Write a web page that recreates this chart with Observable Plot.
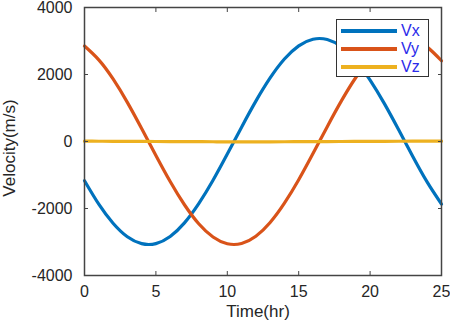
<!DOCTYPE html>
<html>
<head>
<meta charset="utf-8">
<script src="https://cdn.jsdelivr.net/npm/d3@7"></script>
<script src="https://cdn.jsdelivr.net/npm/@observablehq/plot@0.6"></script>
<style>
  html, body { margin: 0; padding: 0; background: #fff; }
  #wrap { position: relative; width: 450px; height: 323px; font-family: "Liberation Sans", Arial, Helvetica, sans-serif; }
  #legend { position: absolute; left: 336px; top: 19px; width: 91px; height: 56px; border: 1.2px solid #333; background: #fff; }
  #legend .row { position: absolute; left: 4px; height: 18px; display: flex; align-items: center; }
  #legend .sw { width: 56px; height: 3.5px; }
  #legend .lab { margin-left: 4px; font-size: 16px; color: #2b2bea; }
</style>
</head>
<body>
<div id="wrap"></div>
<script>
const seriesNames = ["Vx", "Vy", "Vz"];
const seriesColors = ["#0072BD", "#D95319", "#EDB120"];
const time = [0,1,2,3,4,5,6,7,8,9,10,11,12,13,14,15,16,17,18,19,20,21,22,23,24,25];
const vx = [-1170,-1870,-2440,-2844,-3050,-3047,-2835,-2429,-1855,-1157,-376,428,1204,1897,2461,2855,3053,3043,2824,2411,1832,1130,348,-456,-1215,-1870];
const vy = [2850,2436,1867,1168,388,-416,-1194,-1888,-2456,-2850,-3052,-3045,-2829,-2418,-1842,-1142,-360,444,1219,1910,2470,2861,3055,3041,2817,2410];
const vz = [10,8,6,4,2,0,-2,-4,-6,-8,-10,-10,-10,-9,-8,-6,-4,-2,0,2,4,6,8,9,10,10];
const xTicks = [0,5,10,15,20,25];
const yTicks = [-4000,-2000,0,2000,4000];
const xLabel = "Time(hr)";
const yLabel = "Velocity(m/s)";

const values = [vx, vy, vz];
const data = [];
seriesNames.forEach((name, i) => {
  time.forEach((t, j) => data.push({series: name, t, v: values[i][j]}));
});

const textColor = "#262626";
const chart = Plot.plot({
  width: 450,
  height: 323,
  marginLeft: 84,
  marginRight: 9,
  marginTop: 7,
  marginBottom: 48,
  style: {fontFamily: '"Liberation Sans", Arial, Helvetica, sans-serif', fontSize: "16px", color: textColor, background: "#fff"},
  x: {domain: [0, 25]},
  y: {domain: [-4000, 4000]},
  color: {domain: seriesNames, range: seriesColors},
  marks: [
    Plot.lineY(data, {x: "t", y: "v", stroke: "series", strokeWidth: 3.2, curve: "natural"}),
    Plot.axisX({ticks: xTicks, tickSize: -4, tickPadding: 14, stroke: "#444", fontSize: 16, label: null, tickFormat: d => String(d)}),
    Plot.axisX({anchor: "top", ticks: xTicks, tickSize: -4, stroke: "#444", label: null, tickFormat: () => ""}),
    Plot.axisY({ticks: yTicks, tickSize: -4, tickPadding: 16, stroke: "#444", fontSize: 16, label: null, tickFormat: d => String(d)}),
    Plot.axisY({anchor: "right", ticks: yTicks, tickSize: -4, stroke: "#444", label: null, tickFormat: () => ""}),
    Plot.frame({stroke: "#444", strokeWidth: 1.5})
  ]
});

const svg = d3.select(chart);
svg.append("text")
  .attr("x", 258).attr("y", 317)
  .attr("text-anchor", "middle").attr("fill", textColor)
  .style("font-size", "17px").text(xLabel);
svg.append("text")
  .attr("transform", "translate(15,148) rotate(-90)")
  .attr("text-anchor", "middle").attr("fill", textColor)
  .style("font-size", "17px").text(yLabel);

const wrap = document.getElementById("wrap");
wrap.appendChild(chart);

const legend = document.createElement("div");
legend.id = "legend";
seriesNames.forEach((name, i) => {
  const row = document.createElement("div");
  row.className = "row";
  row.style.top = (2 + i * 18) + "px";
  const sw = document.createElement("div");
  sw.className = "sw";
  sw.style.background = seriesColors[i];
  const lab = document.createElement("span");
  lab.className = "lab";
  lab.textContent = name;
  row.appendChild(sw);
  row.appendChild(lab);
  legend.appendChild(row);
});
wrap.appendChild(legend);
</script>
</body>
</html>
